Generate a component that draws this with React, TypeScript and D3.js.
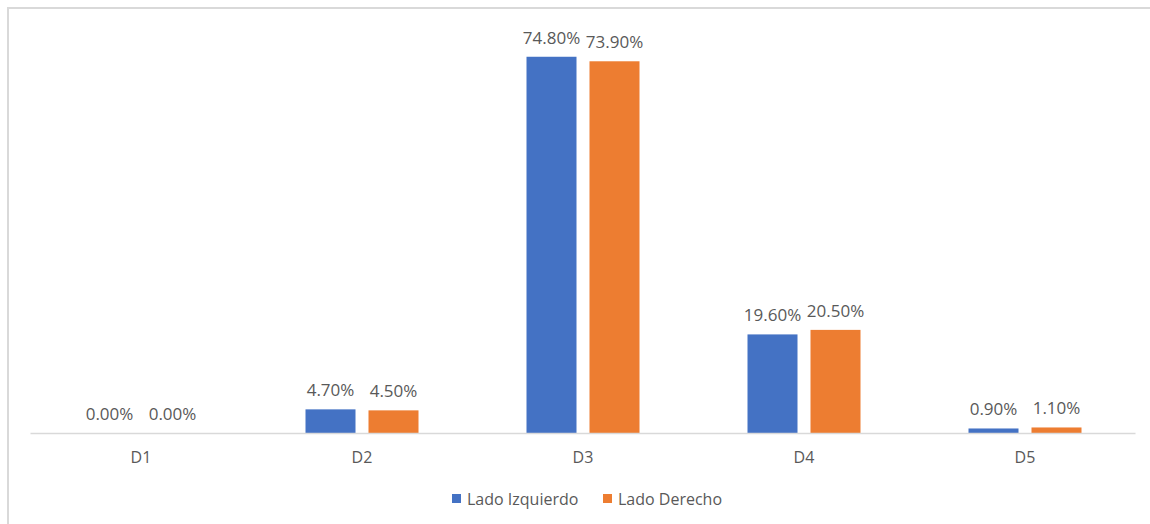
import React from "react";
import * as d3 from "d3";

const categories = ["D1", "D2", "D3", "D4", "D5"];
const seriesNames = ["Lado Izquierdo", "Lado Derecho"];
const izquierdo = [0.0, 4.7, 74.8, 19.6, 0.9];
const derecho = [0.0, 4.5, 73.9, 20.5, 1.1];
const colors = ["#4472C4", "#ED7D31"];

const W = 1150;
const H = 524;
const FONT = "'Open Sans', 'Liberation Sans', sans-serif";

export default function App() {
  const x = d3.scaleBand<string>().domain(categories).range([30.5, 1135.5]);
  const y = d3.scaleLinear().domain([0, 80]).range([433, 30.6]);
  const barW = 50;
  const gap = 13;
  const series = [izquierdo, derecho];
  const fmt = (v: number) => v.toFixed(2) + "%";

  const legendX = [452, 603];

  return (
    <svg
      width={W}
      height={H}
      style={{ position: "absolute", left: 0, top: 0, background: "#fff" }}
      fontFamily={FONT}
    >
      <rect x={8} y={8} width={W + 20} height={H + 20} fill="#fff" stroke="#d9d9d9" strokeWidth={2} />
      {categories.map((c, i) => {
        const cx = (x(c) as number) + x.bandwidth() / 2;
        return (
          <g key={c}>
            {series.map((s, si) => {
              const bx = si === 0 ? cx - gap / 2 - barW : cx + gap / 2;
              const v = s[i];
              return (
                <g key={si}>
                  <rect x={bx} y={y(v)} width={barW} height={y(0) - y(v)} fill={colors[si]} />
                  <text
                    x={bx + barW / 2}
                    y={y(v) - 13}
                    textAnchor="middle"
                    fontSize={17}
                    fill="#595959"
                  >
                    {fmt(v)}
                  </text>
                </g>
              );
            })}
            <text x={cx} y={463} textAnchor="middle" fontSize={16} fill="#595959">
              {c}
            </text>
          </g>
        );
      })}
      <line x1={30.5} x2={1135.5} y1={433.5} y2={433.5} stroke="#d9d9d9" strokeWidth={1.5} />
      {seriesNames.map((n, i) => (
        <g key={n}>
          <rect x={legendX[i]} y={494} width={9} height={9} fill={colors[i]} />
          <text x={legendX[i] + 15} y={505} fontSize={16} fill="#595959">
            {n}
          </text>
        </g>
      ))}
    </svg>
  );
}
